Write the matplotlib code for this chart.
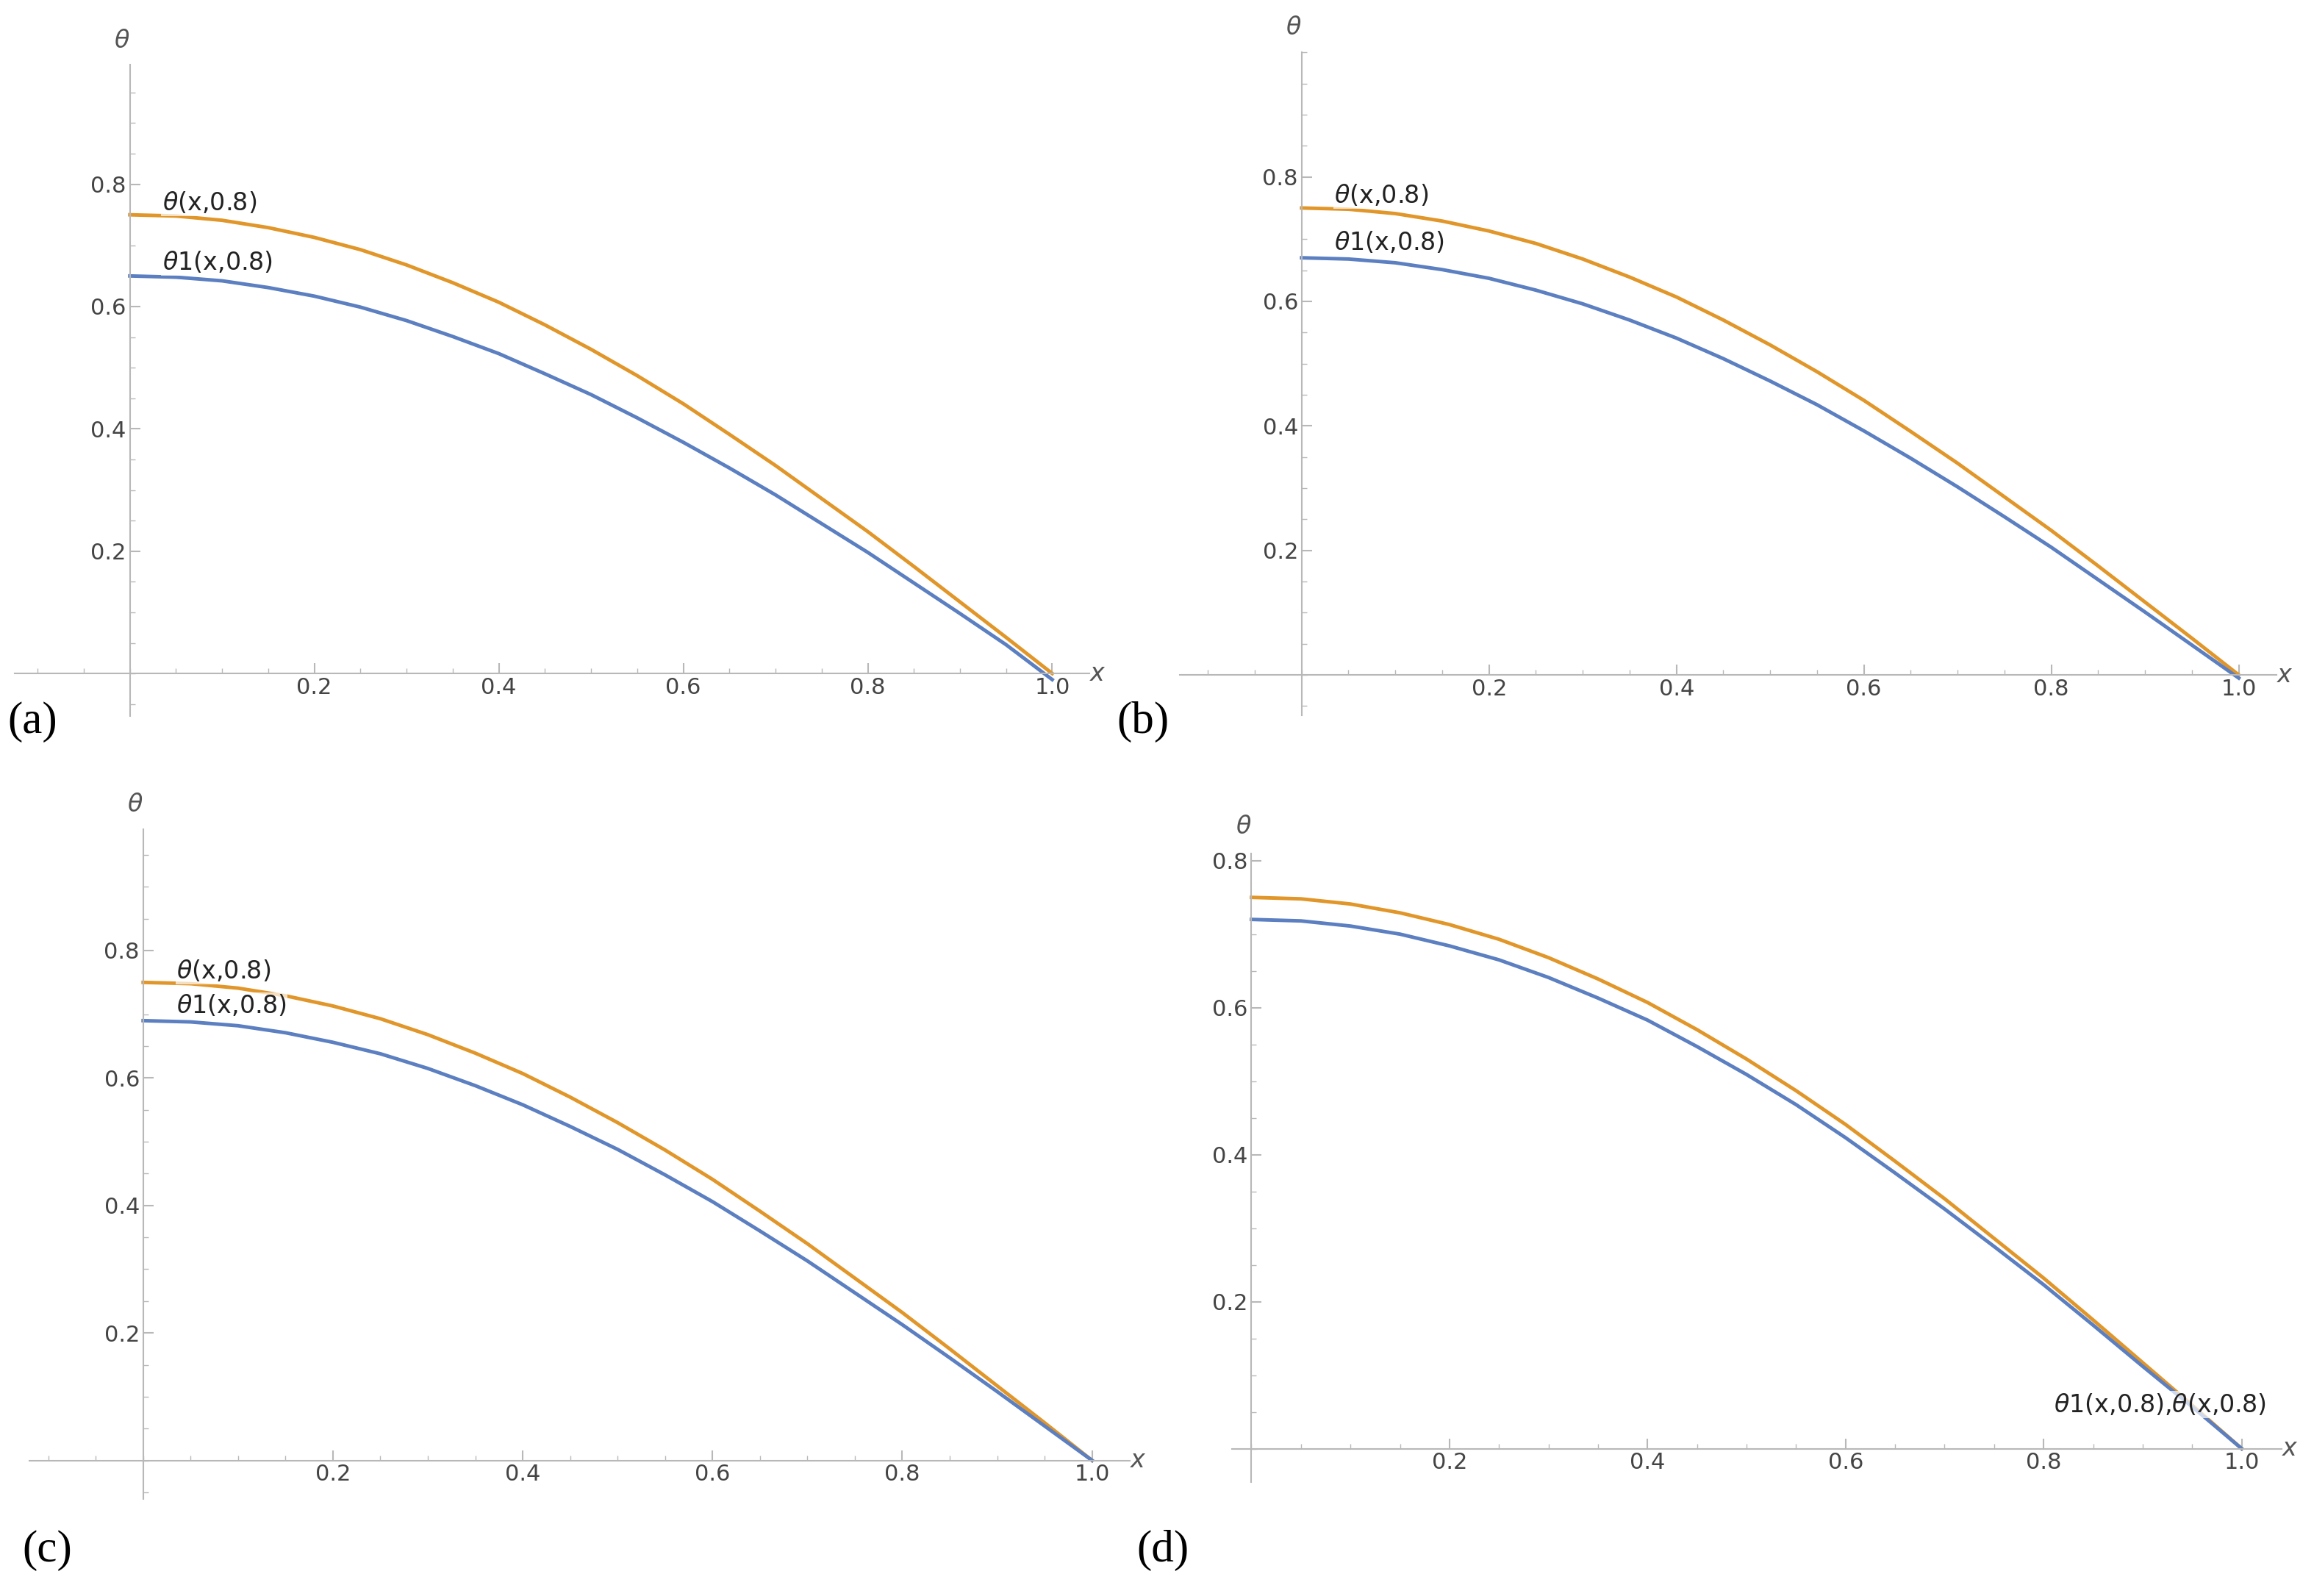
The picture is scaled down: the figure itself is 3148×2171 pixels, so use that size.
import matplotlib.pyplot as plt
from matplotlib.ticker import MultipleLocator

W, H = 1568.0, 1083.0

x = [0.0, 0.05, 0.1, 0.15, 0.2, 0.25, 0.3, 0.35, 0.4, 0.45, 0.5,
     0.55, 0.6, 0.65, 0.7, 0.75, 0.8, 0.85, 0.9, 0.95, 1.0]
orange = [0.75, 0.748, 0.741, 0.729, 0.713, 0.693, 0.668, 0.639, 0.607, 0.570, 0.530,
          0.487, 0.441, 0.391, 0.340, 0.286, 0.232, 0.175, 0.117, 0.059, 0.0]
blue_a = [0.65, 0.648, 0.642, 0.631, 0.617, 0.599, 0.577, 0.551, 0.523, 0.490, 0.456,
          0.418, 0.378, 0.336, 0.292, 0.245, 0.198, 0.148, 0.098, 0.047, -0.01]
blue_b = [0.67, 0.668, 0.662, 0.651, 0.637, 0.618, 0.596, 0.570, 0.541, 0.508, 0.472,
          0.434, 0.392, 0.348, 0.302, 0.254, 0.205, 0.153, 0.101, 0.048, -0.005]
blue_c = [0.69, 0.688, 0.682, 0.671, 0.656, 0.638, 0.615, 0.588, 0.558, 0.524, 0.488,
          0.448, 0.406, 0.360, 0.313, 0.263, 0.213, 0.161, 0.108, 0.054, 0.0]
blue_d = [0.72, 0.718, 0.711, 0.700, 0.684, 0.665, 0.641, 0.613, 0.583, 0.547, 0.509,
          0.468, 0.423, 0.375, 0.326, 0.275, 0.223, 0.168, 0.112, 0.057, 0.0]

xticks = [0.2, 0.4, 0.6, 0.8, 1.0]
yticks = [0.2, 0.4, 0.6, 0.8]

ORANGE = '#e1962a'
BLUE = '#5b7fc0'
GRAY = '#b8b8b8'

fig = plt.figure(figsize=(31.48, 21.71), dpi=100)


def panel(ox, oy, x1px, y08px, xlim, ylim, blue, letter, letter_pos, lab):
    sx = x1px - ox
    sy = (oy - y08px) / 0.8
    left = ox + xlim[0] * sx
    right = ox + xlim[1] * sx
    bottom = oy - ylim[0] * sy
    top = oy - ylim[1] * sy
    ax = fig.add_axes([left / W, 1 - bottom / H, (right - left) / W, (bottom - top) / H])
    ax.set_xlim(*xlim)
    ax.set_ylim(*ylim)
    ax.patch.set_alpha(0)
    for s in ['top', 'right']:
        ax.spines[s].set_visible(False)
    for s in ['left', 'bottom']:
        ax.spines[s].set_position('zero')
        ax.spines[s].set_color(GRAY)
        ax.spines[s].set_linewidth(1.5)
    ax.set_xticks(xticks)
    ax.set_yticks(yticks)
    ax.xaxis.set_minor_locator(MultipleLocator(0.05))
    ax.yaxis.set_minor_locator(MultipleLocator(0.05))
    ax.tick_params(which='major', length=10, width=1.5, color=GRAY, labelsize=22,
                   labelcolor='#444444', direction='in')
    ax.tick_params(which='minor', length=5, width=1, color=GRAY, direction='in')
    ax.plot(x, orange, color=ORANGE, lw=3.5)
    ax.plot(x, blue, color=BLUE, lw=3.5)
    ax.text(0, ylim[1] + 0.02, r'$\theta$', fontsize=24, color='#555555', ha='right', va='bottom')
    ax.text(xlim[1], 0, r'$x$', fontsize=24, color='#555555', ha='left', va='center')
    for (tx, ty, s) in lab:
        ax.text(tx, ty, s, fontsize=24, color='#222222', va='center',
                bbox=dict(facecolor='white', edgecolor='none', alpha=0.7, pad=1))
    fig.text(letter_pos[0] / W, 1 - letter_pos[1] / H, letter, fontsize=44,
             family='Liberation Serif', va='center')
    return ax


panel(88, 457, 713, 125, (-0.125, 1.04), (-0.07, 0.995), blue_a, '(a)', (5, 490),
      [(0.035, 0.77, r'$\theta$(x,0.8)'), (0.035, 0.672, r'$\theta$1(x,0.8)')])
panel(882, 458, 1517, 120, (-0.13, 1.04), (-0.065, 1.0), blue_b, '(b)', (757, 490),
      [(0.035, 0.77, r'$\theta$(x,0.8)'), (0.035, 0.694, r'$\theta$1(x,0.8)')])
panel(97, 991, 740, 645, (-0.12, 1.04), (-0.06, 0.99), blue_c, '(c)', (15, 1052),
      [(0.035, 0.768, r'$\theta$(x,0.8)'), (0.035, 0.713, r'$\theta$1(x,0.8)')])
panel(848, 983, 1519, 584, (-0.02, 1.04), (-0.045, 0.81), blue_d, '(d)', (770, 1052),
      [(0.81, 0.06, r'$\theta$1(x,0.8),$\theta$(x,0.8)')])

fig.savefig('out.png', dpi=100)
